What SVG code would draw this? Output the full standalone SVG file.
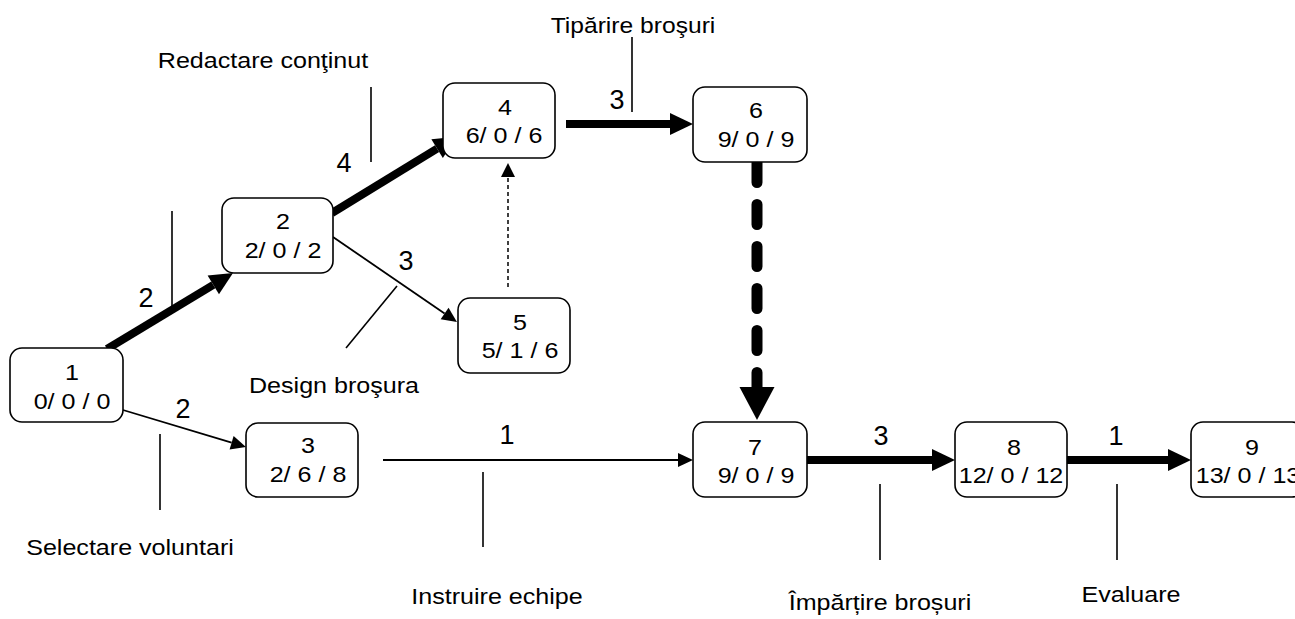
<svg xmlns="http://www.w3.org/2000/svg" width="1295" height="619" viewBox="0 0 1295 619">
<style>
.n{fill:#fff;stroke:#000;stroke-width:1.6}
text{font-family:"Liberation Sans",Arial,sans-serif;font-size:22px;fill:#000;text-anchor:middle}
text.d{font-size:27px}
.thick{stroke:#000;stroke-width:8;fill:none}
.thin{stroke:#000;stroke-width:1.8;fill:none}
.tick{stroke:#000;stroke-width:1.6;fill:none}
.dot{stroke:#000;stroke-width:1.5;fill:none;stroke-dasharray:4 3}
.heavy{stroke:#000;stroke-width:11;fill:none;stroke-linecap:round;stroke-dasharray:20 22}
</style>
<defs>
<marker id="hThick" markerUnits="userSpaceOnUse" markerWidth="24" markerHeight="24" refX="0" refY="11" orient="auto" overflow="visible"><path d="M0,0 L23,11 L0,22 Z" fill="#000"/></marker>
<marker id="hThin" markerUnits="userSpaceOnUse" markerWidth="16" markerHeight="14" refX="0" refY="7" orient="auto" overflow="visible"><path d="M0,0 L15,7 L0,14 Z" fill="#000"/></marker>
<marker id="hDot" markerUnits="userSpaceOnUse" markerWidth="14" markerHeight="14" refX="0" refY="7" orient="auto" overflow="visible"><path d="M0,0 L14,7 L0,14 Z" fill="#000"/></marker>
<marker id="hBig" markerUnits="userSpaceOnUse" markerWidth="34" markerHeight="36" refX="0" refY="17.5" orient="auto" overflow="visible"><path d="M0,0 L33,17.5 L0,35 Z" fill="#000"/></marker>
</defs>

<g id="connectors">
<line class="thick" x1="107" y1="349" x2="213.3" y2="284.9" marker-end="url(#hThick)"/>
<line class="thick" x1="332" y1="213" x2="437.1" y2="148.7" marker-end="url(#hThick)"/>
<line class="thin" x1="333" y1="237" x2="444.6" y2="313.5" marker-end="url(#hThin)"/>
<line class="thin" x1="123" y1="410" x2="231.6" y2="442.7" marker-end="url(#hThin)"/>
<line class="dot" x1="508" y1="287" x2="508" y2="177" marker-end="url(#hDot)"/>
<line class="thick" x1="566" y1="124" x2="670" y2="124" marker-end="url(#hThick)"/>
<line class="heavy" x1="757" y1="162.5" x2="757" y2="387" marker-end="url(#hBig)"/>
<line class="thin" x1="383" y1="460" x2="678" y2="460" marker-end="url(#hThin)"/>
<line class="thick" x1="805" y1="460" x2="932" y2="460" marker-end="url(#hThick)"/>
<line class="thick" x1="1065" y1="460" x2="1168" y2="460" marker-end="url(#hThick)"/>
</g>

<g id="activity-labels">
<line class="tick" x1="160" y1="434" x2="160" y2="510"/>
<line class="tick" x1="172" y1="211" x2="172" y2="307"/>
<line class="tick" x1="371" y1="87" x2="371" y2="162"/>
<line class="tick" x1="397" y1="286" x2="346" y2="348"/>
<line class="tick" x1="632" y1="37" x2="632" y2="112"/>
<line class="tick" x1="483" y1="472" x2="483" y2="547"/>
<line class="tick" x1="880" y1="484" x2="880" y2="560"/>
<line class="tick" x1="1117" y1="484" x2="1117" y2="560"/>
<text transform="translate(263 68) scale(1.14 1)">Redactare conţinut</text>
<text transform="translate(633 33) scale(1.12 1)">Tipărire broşuri</text>
<text transform="translate(334 393) scale(1.14 1)">Design broşura</text>
<text transform="translate(130 555) scale(1.14 1)">Selectare voluntari</text>
<text transform="translate(497 604) scale(1.14 1)">Instruire echipe</text>
<text transform="translate(880 610) scale(1.14 1)">Împărțire broșuri</text>
<text transform="translate(1131 602) scale(1.14 1)">Evaluare</text>
<text class="d" x="146" y="307">2</text>
<text class="d" x="183" y="418">2</text>
<text class="d" x="344" y="172">4</text>
<text class="d" x="406" y="270">3</text>
<text class="d" x="617" y="109">3</text>
<text class="d" x="507" y="444">1</text>
<text class="d" x="881" y="445">3</text>
<text class="d" x="1116" y="445">1</text>
</g>

<g id="node1"><rect class="n" x="10" y="348" width="113" height="74" rx="12"/><text transform="translate(72 380) scale(1.14 1)">1</text><text transform="translate(72 409) scale(1.14 1)">0/ 0 / 0</text></g>
<g id="node2"><rect class="n" x="222" y="198" width="111" height="75" rx="12"/><text transform="translate(283 229) scale(1.14 1)">2</text><text transform="translate(283 258) scale(1.14 1)">2/ 0 / 2</text></g>
<g id="node3"><rect class="n" x="246" y="423" width="112" height="74" rx="12"/><text transform="translate(308 453) scale(1.14 1)">3</text><text transform="translate(308 482) scale(1.14 1)">2/ 6 / 8</text></g>
<g id="node4"><rect class="n" x="443" y="83" width="112" height="75" rx="12"/><text transform="translate(505 115) scale(1.14 1)">4</text><text transform="translate(504 143) scale(1.14 1)">6/ 0 / 6</text></g>
<g id="node5"><rect class="n" x="458" y="298" width="112" height="75" rx="12"/><text transform="translate(520 330) scale(1.14 1)">5</text><text transform="translate(520 358) scale(1.14 1)">5/ 1 / 6</text></g>
<g id="node6"><rect class="n" x="693" y="87" width="114" height="75" rx="12"/><text transform="translate(756 118) scale(1.14 1)">6</text><text transform="translate(756 147) scale(1.14 1)">9/ 0 / 9</text></g>
<g id="node7"><rect class="n" x="693" y="422" width="114" height="75" rx="12"/><text transform="translate(755 455) scale(1.14 1)">7</text><text transform="translate(756 483) scale(1.14 1)">9/ 0 / 9</text></g>
<g id="node8"><rect class="n" x="955" y="422" width="112" height="75" rx="12"/><text transform="translate(1014 455) scale(1.14 1)">8</text><text transform="translate(1011 483) scale(1.14 1)">12/ 0 / 12</text></g>
<g id="node9"><rect class="n" x="1191" y="422" width="113" height="75" rx="12"/><text transform="translate(1252 455) scale(1.14 1)">9</text><text transform="translate(1248 483) scale(1.14 1)">13/ 0 / 13</text></g>
</svg>
